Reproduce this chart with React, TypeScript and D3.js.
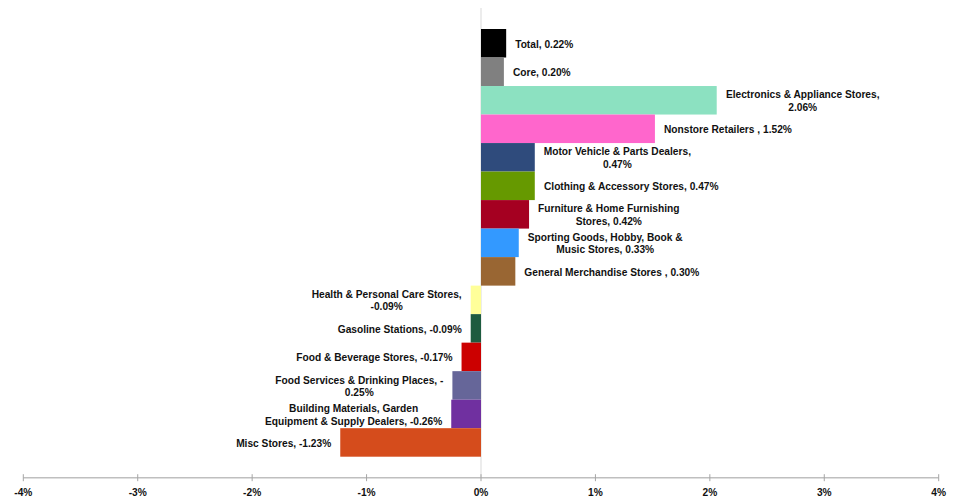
import React from "react";
import * as d3 from "d3";

const categories = [
  "Total", "Core", "Electronics & Appliance Stores", "Nonstore Retailers",
  "Motor Vehicle & Parts Dealers", "Clothing & Accessory Stores",
  "Furniture & Home Furnishing Stores", "Sporting Goods, Hobby, Book & Music Stores",
  "General Merchandise Stores", "Health & Personal Care Stores", "Gasoline Stations",
  "Food & Beverage Stores", "Food Services & Drinking Places",
  "Building Materials, Garden Equipment & Supply Dealers", "Misc Stores",
];
const values = [0.22, 0.20, 2.06, 1.52, 0.47, 0.47, 0.42, 0.33, 0.30, -0.09, -0.09, -0.17, -0.25, -0.26, -1.23];
const labelLines = [
  ["Total, 0.22%"],
  ["Core, 0.20%"],
  ["Electronics & Appliance Stores,", "2.06%"],
  ["Nonstore Retailers , 1.52%"],
  ["Motor Vehicle & Parts Dealers,", "0.47%"],
  ["Clothing & Accessory Stores, 0.47%"],
  ["Furniture & Home Furnishing", "Stores, 0.42%"],
  ["Sporting Goods, Hobby, Book &", "Music Stores, 0.33%"],
  ["General Merchandise Stores , 0.30%"],
  ["Health & Personal Care Stores,", "-0.09%"],
  ["Gasoline Stations, -0.09%"],
  ["Food & Beverage Stores, -0.17%"],
  ["Food Services & Drinking Places, -", "0.25%"],
  ["Building Materials, Garden", "Equipment & Supply Dealers, -0.26%"],
  ["Misc Stores, -1.23%"],
];
const colors = [
  "#000000", "#808080", "#8ce1c1", "#ff66cc", "#2f4b7c", "#669900", "#a50021",
  "#3399ff", "#996633", "#ffff99", "#1d5b3f", "#cc0000", "#666699", "#7030a0", "#d54c1c",
];
const xTicks = [-4, -3, -2, -1, 0, 1, 2, 3, 4];

const W = 953, H = 500;
const FONT = "'Liberation Sans', Arial, sans-serif";
const FS = 10.2;

export default function App() {
  const x = d3.scaleLinear().domain([-4, 4]).range([23.3, 938.7]);
  const y = d3.scaleBand<string>().domain(categories).range([29, 456.7]).padding(0);
  const axisY = 477.7;
  const x0 = x(0);
  const lineH = 12.5;

  const ctx = (typeof document !== "undefined") ? document.createElement("canvas").getContext("2d") : null;
  if (ctx) ctx.font = `bold ${FS}px ${FONT}`;

  return (
    <svg width={W} height={H} style={{ position: "fixed", left: 0, top: 0, background: "#fff" }}
      fontFamily={FONT}>
      <line x1={x0} x2={x0} y1={8} y2={axisY} stroke="#d9d9d9" strokeWidth={1} />
      {categories.map((c, i) => {
        const v = values[i];
        const xa = x(Math.min(0, v));
        const xb = x(Math.max(0, v));
        return (
          <rect key={c} x={xa} y={y(c)!} width={xb - xa} height={y.bandwidth()} fill={colors[i]} />
        );
      })}
      {categories.map((c, i) => {
        const v = values[i];
        const lines = labelLines[i];
        const cy = y(c)! + y.bandwidth() / 2;
        let maxW = 0;
        if (ctx) lines.forEach((l) => { maxW = Math.max(maxW, ctx.measureText(l).width); });
        const gap = 9;
        const cx = v >= 0 ? x(v) + gap + maxW / 2 : x(v) - gap - maxW / 2;
        const startY = cy - ((lines.length - 1) * lineH) / 2 + 0.8;
        return (
          <text key={c} textAnchor="middle" fontSize={FS} fontWeight="bold" fill="#111">
            {lines.map((l, k) => (
              <tspan key={k} x={cx} y={startY + k * lineH} dy="0.35em">{l}</tspan>
            ))}
          </text>
        );
      })}
      <line x1={x(-4)} x2={x(4)} y1={axisY} y2={axisY} stroke="#bfbfbf" strokeWidth={1.5} />
      {xTicks.map((t) => (
        <g key={t}>
          <line x1={x(t)} x2={x(t)} y1={axisY - 3.5} y2={axisY + 3.5} stroke="#a6a6a6" strokeWidth={1} />
          <text x={x(t)} y={492.5} dy="0.35em" textAnchor="middle" fontSize={FS} fontWeight="bold" fill="#111">
            {`${t}%`}
          </text>
        </g>
      ))}
    </svg>
  );
}
